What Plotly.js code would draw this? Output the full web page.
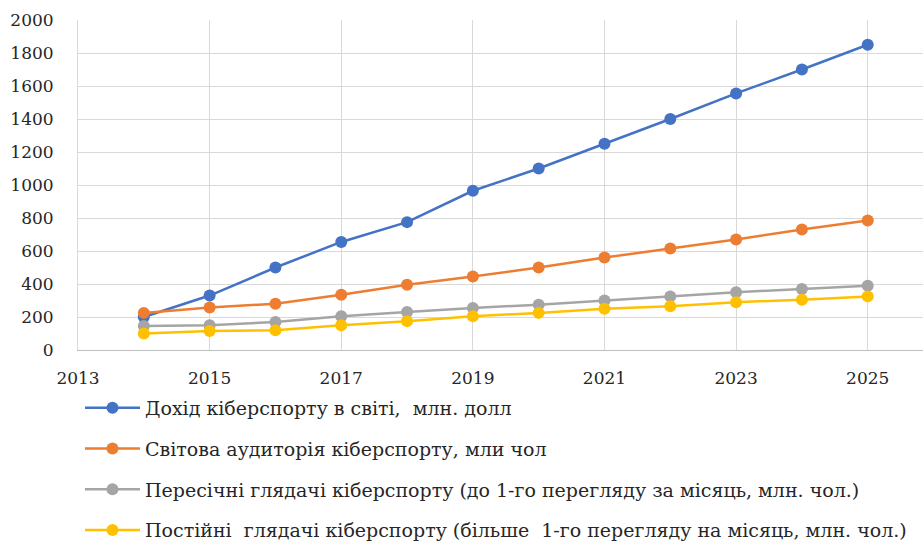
<!DOCTYPE html>
<html>
<head>
<meta charset="utf-8">
<script src="https://cdn.plot.ly/plotly-3.0.1.min.js"></script>
<style>html,body{margin:0;padding:0;background:#fff;}#chart{width:923px;height:549px;}</style>
</head>
<body>
<div id="chart"></div>
<script>
const years = [2014, 2015, 2016, 2017, 2018, 2019, 2020, 2021, 2022, 2023, 2024, 2025];
const revenue = [200, 330, 500, 655, 775, 965, 1100, 1250, 1400, 1555, 1700, 1850];
const audience = [225, 258, 280, 335, 395, 445, 500, 560, 615, 670, 730, 785];
const occasional = [145, 150, 170, 205, 230, 255, 275, 300, 325, 350, 370, 390];
const regular = [100, 115, 120, 150, 175, 205, 225, 250, 265, 290, 305, 325];
const names = [
  "Дохід кіберспорту в світі,  млн. долл",
  "Світова аудиторія кіберспорту, мли чол",
  "Пересічні глядачі кіберспорту (до 1-го перегляду за місяць, млн. чол.)",
  "Постійні  глядачі кіберспорту (більше  1-го перегляду на місяць, млн. чол.)"
];
const colors = ["#4472C4", "#ED7D31", "#A5A5A5", "#FFC000"];
const series = [revenue, audience, occasional, regular];

const traces = series.map((s, i) => ({
  x: years, y: s, name: names[i], type: "scatter", mode: "lines+markers",
  legendgroup: "g" + i,
  line: {color: colors[i], width: 2.5},
  marker: {color: colors[i], size: 12}
}));

const font = "DejaVu Serif";
const layout = {
  width: 923, height: 549,
  margin: {l: 78, r: 0, t: 20, b: 199, autoexpand: false},
  paper_bgcolor: "#fff", plot_bgcolor: "#fff",
  font: {family: font, size: 17, color: "#262626"},
  xaxis: {
    range: [2013, 2025.84], tickmode: "array",
    tickvals: [2013, 2015, 2017, 2019, 2021, 2023, 2025],
    ticktext: ["2013", "2015", "2017", "2019", "2021", "2023", "2025"],
    showgrid: true, gridcolor: "#d9d9d9", gridwidth: 1,
    showline: true, linecolor: "#bfbfbf", linewidth: 1,
    zeroline: false, ticks: "", ticklen: 0, ticklabelstandoff: 13,
    tickfont: {family: font, size: 17, color: "#262626"}
  },
  yaxis: {
    range: [0, 2000], tickmode: "array",
    tickvals: [0, 200, 400, 600, 800, 1000, 1200, 1400, 1600, 1800, 2000],
    showgrid: true, gridcolor: "#d9d9d9", gridwidth: 1,
    showline: true, linecolor: "#d9d9d9", linewidth: 1,
    zeroline: false, ticks: "", ticklabelstandoff: 20,
    tickfont: {family: font, size: 17, color: "#262626"}
  },
  showlegend: true,
  legend: {
    xref: "container", yref: "container",
    x: 80 / 923, xanchor: "left", y: 1 - 389 / 549, yanchor: "top",
    orientation: "v", tracegroupgap: 13, itemwidth: 55,
    font: {family: font, size: 19, color: "#262626"},
    bgcolor: "rgba(0,0,0,0)"
  }
};
Plotly.newPlot("chart", traces, layout, {displayModeBar: false, staticPlot: true});
</script>
</body>
</html>
